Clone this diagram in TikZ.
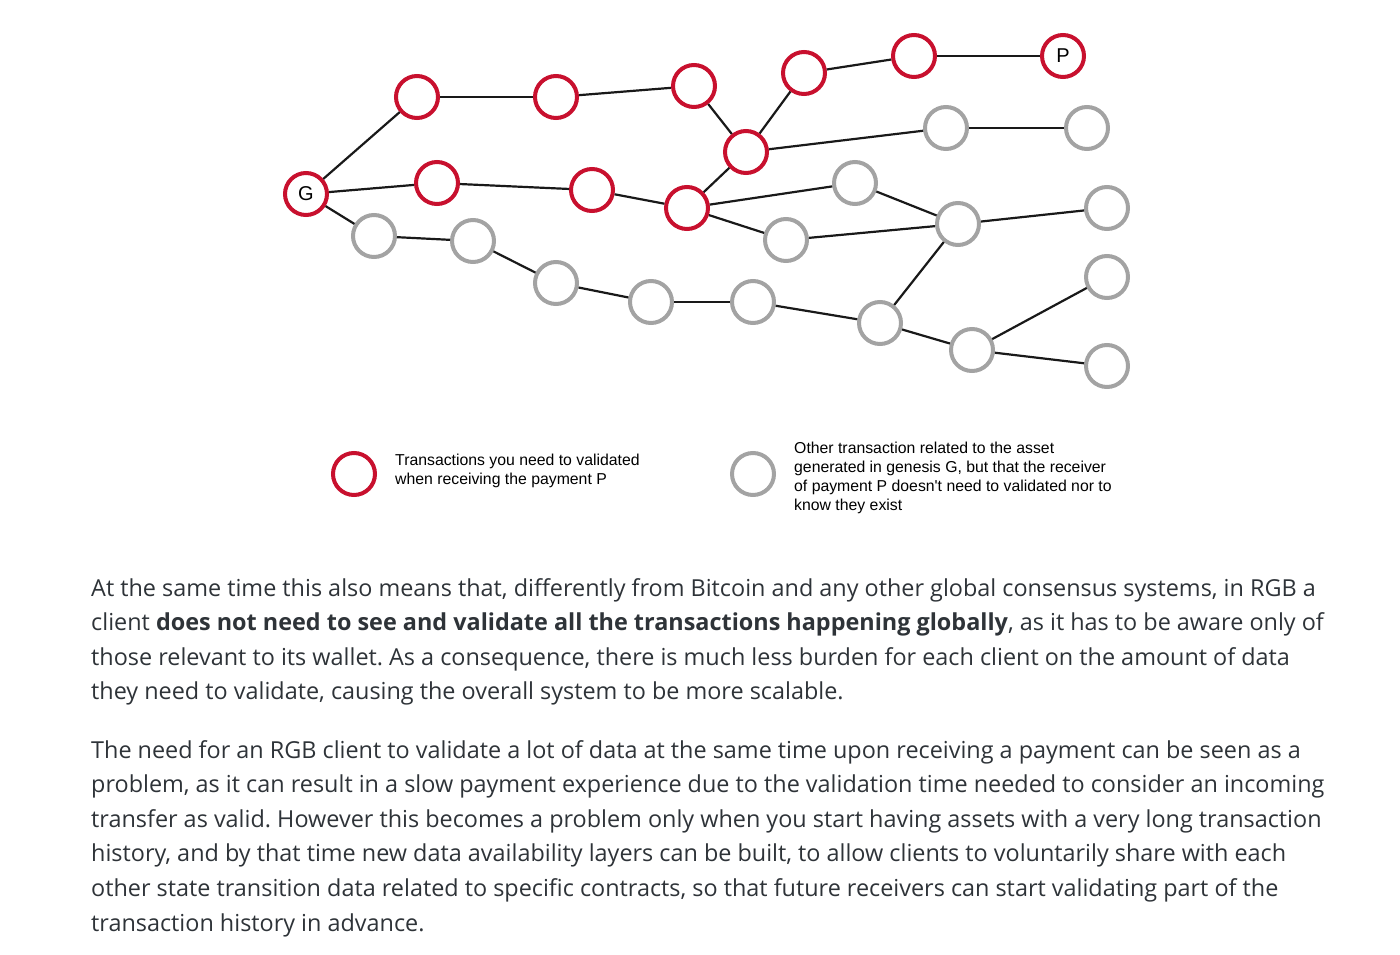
\documentclass[tikz,border=0pt]{standalone}
\usepackage{fontspec}
\setmainfont{Open Sans}
\newfontfamily\diagfont{Liberation Sans}
\usepackage{tikz}
\usetikzlibrary{positioning}
\definecolor{txred}{HTML}{C8102E}
\definecolor{txgrey}{HTML}{A3A3A3}
\definecolor{bodytext}{HTML}{2E3338}
\frenchspacing

\begin{document}
\begin{tikzpicture}[x=1pt,y=-1pt,node distance=18pt,
  need/.style={circle,draw=txred,line width=4pt,fill=white,minimum size=42pt,inner sep=0pt,
    font=\diagfont\fontsize{20}{20}\selectfont},
  other/.style={circle,draw=txgrey,line width=4pt,fill=white,minimum size=42pt,inner sep=0pt},
  link/.style={line width=2.2pt,draw=black!90},
  legend/.style={align=left,inner sep=0pt,font=\diagfont\fontsize{15.8}{19}\selectfont},
  para/.style={anchor=north west,align=left,inner sep=0pt,text=bodytext,
    font=\fontsize{23.4}{34.6}\selectfont}]
  \useasboundingbox (0,0) rectangle (1400,955);

  % transactions P depends on
  \node[need] (G) at (306,194) {G};
  \node[need] (r1) at (417,97) {};
  \node[need] (r2) at (556,97) {};
  \node[need] (r3) at (694,86) {};
  \node[need] (r4) at (804,73) {};
  \node[need] (r5) at (914,56) {};
  \node[need] (P) at (1063,56) {P};
  \node[need] (r6) at (746,152) {};
  \node[need] (r7) at (437,183) {};
  \node[need] (r8) at (592,190) {};
  \node[need] (r9) at (687,208) {};

  % the rest of the asset history
  \node[other] (o1) at (374,236) {};
  \node[other] (o2) at (473,241) {};
  \node[other] (o3) at (556,283) {};
  \node[other] (o4) at (651,302) {};
  \node[other] (o5) at (753,302) {};
  \node[other] (o6) at (880,323) {};
  \node[other] (o7) at (972,350) {};
  \node[other] (o8) at (1107,366) {};
  \node[other] (o9) at (1107,277) {};
  \node[other] (o10) at (958,224) {};
  \node[other] (o11) at (1107,208) {};
  \node[other] (o12) at (855,183) {};
  \node[other] (o13) at (786,240) {};
  \node[other] (o14) at (946,128) {};
  \node[other] (o15) at (1087,128) {};

  \path[link]
  (G)
  edge (r1)
  edge (r7)
  edge (o1)
  (r1) edge (r2)
  (r2) edge (r3)
  (r3) edge (r6)
  (r6)
  edge (r4)
  edge (o14)
  (r4) edge (r5)
  (r5) edge (P)
  (r7) edge (r8)
  (r8) edge (r9)
  (r9)
  edge (r6)
  edge (o12)
  edge (o13)
  (o1) edge (o2)
  (o2) edge (o3)
  (o3) edge (o4)
  (o4) edge (o5)
  (o5) edge (o6)
  (o6)
  edge (o7)
  edge (o10)
  (o7)
  edge (o9)
  edge (o8)
  (o12) edge (o10)
  (o13) edge (o10)
  (o10) edge (o11)
  (o14) edge (o15)
  ;

  % legend
  \node[need] (legred) at (354,474) {};
  \node[legend] (legredtxt) [right = of legred, yshift=3pt] {Transactions you need to validated\\when receiving the payment P};
  \node[other] (leggrey) at (753,474) {};
  \node[legend] (leggreytxt) [right = of leggrey, yshift=-4pt] {Other transaction related to the asset\\generated in genesis G, but that the receiver\\of payment P doesn't need to validated nor to\\know they exist};

  % article text
  \node[para] (para1) at (91,578) {At the same time this also means that, differently from Bitcoin and any other global consensus systems, in RGB a\\
    client \textbf{does not need to see and validate all the transactions happening globally}, as it has to be aware only of\\
    those relevant to its wallet. As a consequence, there is much less burden for each client on the amount of data\\
    they need to validate, causing the overall system to be more scalable.};
  \node[para] (para2) at (91,740) {The need for an RGB client to validate a lot of data at the same time upon receiving a payment can be seen as a\\
    problem, as it can result in a slow payment experience due to the validation time needed to consider an incoming\\
    transfer as valid. However this becomes a problem only when you start having assets with a very long transaction\\
    history, and by that time new data availability layers can be built, to allow clients to voluntarily share with each\\
    other state transition data related to specific contracts, so that future receivers can start validating part of the\\
    transaction history in advance.};
\end{tikzpicture}
\end{document}
